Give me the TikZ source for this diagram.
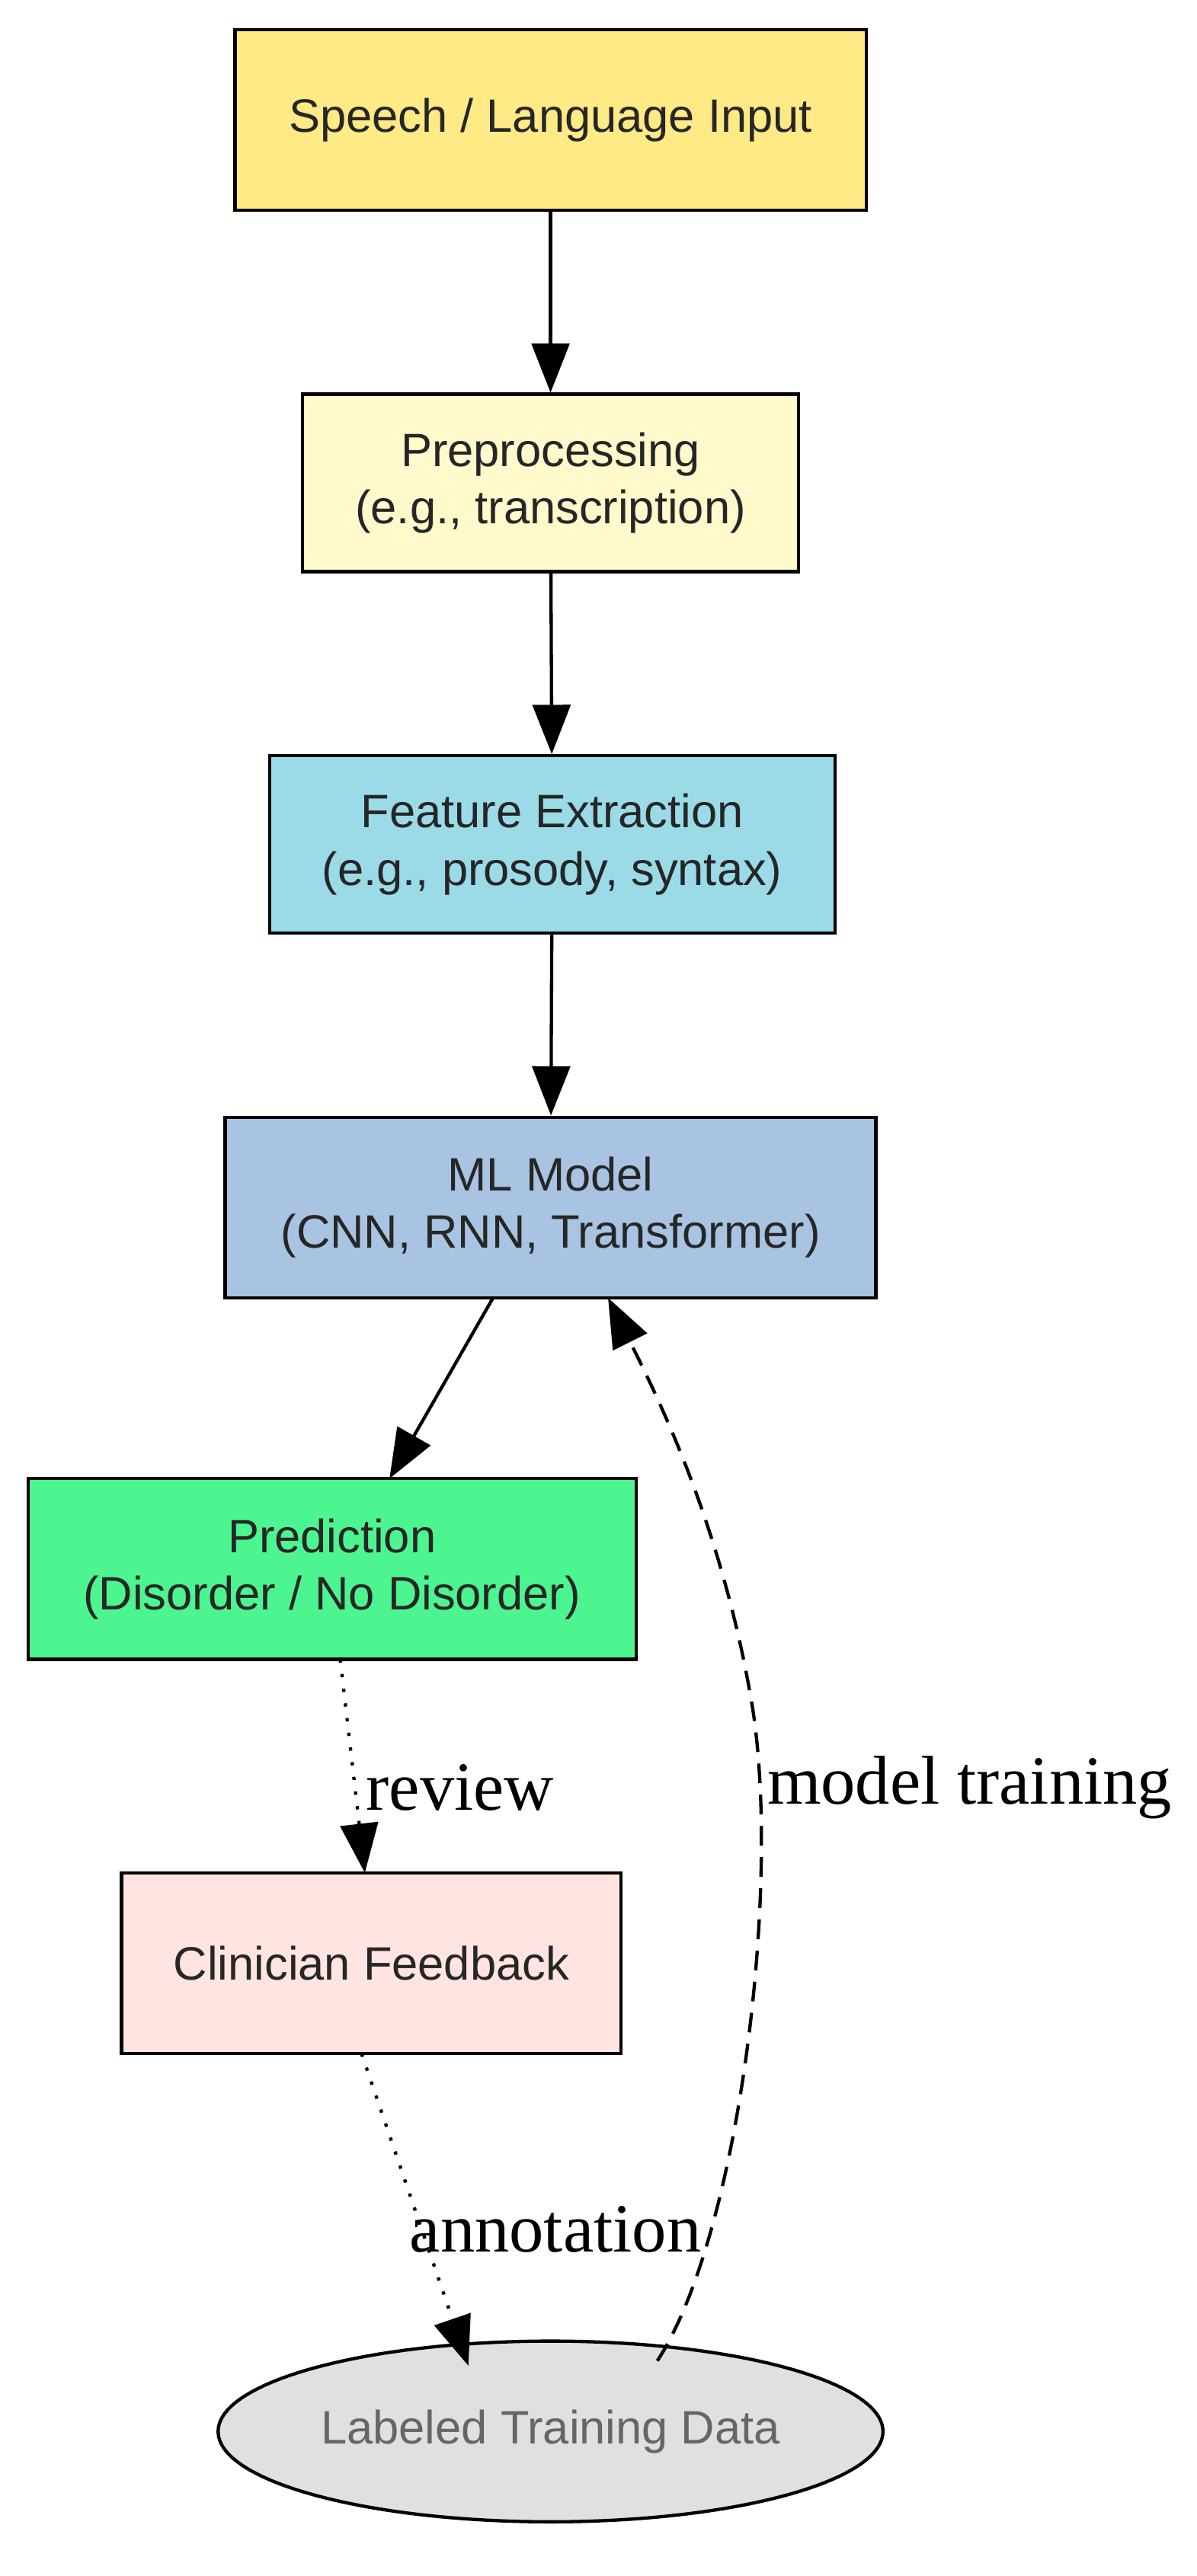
\documentclass[tikz,border=0pt]{standalone}
\usepackage{fontspec}
\setmainfont{Liberation Sans}
\newfontfamily\lbl{Liberation Serif}
\usetikzlibrary{arrows.meta,shapes.geometric}
\begin{document}
\begin{tikzpicture}[x=1pt,y=-1pt,
  box/.style={draw,line width=2pt,minimum height=110pt,align=center,font=\fontsize{28.5}{35}\selectfont,text=black!85},
  arr/.style={line width=2pt,-{Triangle[length=30pt,width=23pt]}},
  dot/.style={dash pattern=on 2pt off 7pt},
  dsh/.style={dash pattern=on 12pt off 7pt},
  lab/.style={font=\lbl\fontsize{42}{46}\selectfont}]
\useasboundingbox (0,0) rectangle (728,1568);
\definecolor{c1}{HTML}{FFEA85}\definecolor{c2}{HTML}{FFF9CC}\definecolor{c3}{HTML}{9BDBE8}
\definecolor{c4}{HTML}{A9C4E2}\definecolor{c5}{HTML}{4CF590}\definecolor{c6}{HTML}{FFE4E1}
\node[box,fill=c1,minimum width=384pt] (a) at (335,73) {Speech / Language Input};
\node[box,fill=c2,minimum width=302pt,minimum height=108pt] (b) at (335,294) {Preprocessing\\(e.g., transcription)};
\node[box,fill=c3,minimum width=344pt,minimum height=108pt] (c) at (336,514) {Feature Extraction\\(e.g., prosody, syntax)};
\node[box,fill=c4,minimum width=396pt] (d) at (335,735) {ML Model\\(CNN, RNN, Transformer)};
\node[box,fill=c5,minimum width=370pt] (e) at (202,955) {Prediction\\(Disorder / No Disorder)};
\node[box,fill=c6,minimum width=304pt] (f) at (226,1195) {Clinician Feedback};
\node[draw,line width=2pt,ellipse,fill=black!12,minimum width=380pt,minimum height=110pt,font=\fontsize{28.5}{35}\selectfont,text=black!60] (g) at (335,1480) {Labeled Training Data};
\draw[arr] (a) -- (b);
\draw[arr] (b) -- (c);
\draw[arr] (c) -- (d);
\draw[arr] (300,790) -- (237,900);
\draw[arr,dot] (207,1010) -- (222,1140);
\node[lab] (r) at (280,1088) {review};
\draw[arr,dot] (220,1250) -- (285,1440);
\node[lab] (n) at (338,1357) {annotation};
\draw[arr,dsh] (400,1437) .. controls (450,1360) and (475,1150) .. (458,1040) .. controls (440,930) and (400,850) .. (370,790);
\node[lab] (m) at (590,1088) {model training};
\end{tikzpicture}
\end{document}
